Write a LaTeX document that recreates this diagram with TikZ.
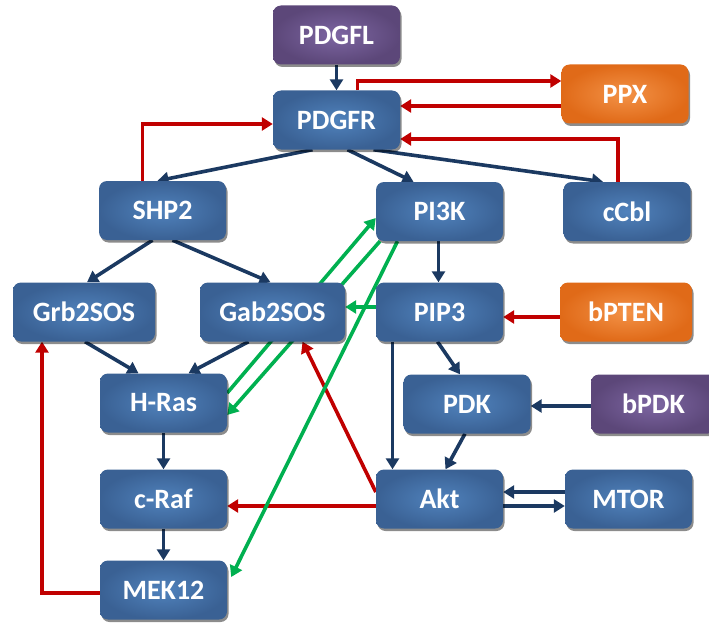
\documentclass[tikz,border=0pt]{standalone}
\usepackage{fontspec}
\setmainfont{Carlito}
\usetikzlibrary{arrows.meta,shadows,calc}
\pgfdeclarelayer{bg}
\pgfsetlayers{bg,main}
\definecolor{lnblue}{HTML}{1B3961}
\definecolor{lnred}{HTML}{C00000}
\definecolor{lngreen}{HTML}{00B050}
\definecolor{bluein}{HTML}{5082BC}
\definecolor{blueout}{HTML}{3A6194}
\definecolor{purpin}{HTML}{7D66A2}
\definecolor{purpout}{HTML}{5C4779}
\definecolor{orgin}{HTML}{F39247}
\definecolor{orgout}{HTML}{E06A18}
\tikzset{
  box/.style={rounded corners=8pt, minimum width=127pt, minimum height=59pt, inner sep=0pt,
    text=white, font=\bfseries\fontsize{28}{31}\selectfont,
    drop shadow={shadow xshift=1.5pt, shadow yshift=-2.5pt, fill=black, opacity=0.45}},
  bluebox/.style={box, inner color=bluein, outer color=blueout},
  purplebox/.style={box, inner color=purpin, outer color=purpout},
  orangebox/.style={box, inner color=orgin, outer color=orgout},
  conn/.style={line width=3.6pt, -{Triangle[length=11pt,width=13pt]}},
  darkarrow/.style={conn, draw=lnblue},
  redarrow/.style={conn, draw=lnred},
  greenarrow/.style={conn, draw=lngreen},
}
\begin{document}
\begin{tikzpicture}[x=1pt,y=-1pt]
\useasboundingbox (0,0) rectangle (709,623);
% nodes
\node[purplebox] (PDGFL) at (336.5,35) {PDGFL};
\node[bluebox] (PDGFR) at (336.5,120) {PDGFR};
\node[orangebox] (PPX) at (625,94) {PPX};
\node[bluebox] (SHP2) at (162.5,210.5) {SHP2};
\node[bluebox] (PI3K) at (439.5,211.5) {PI3K};
\node[bluebox] (cCbl) at (627,211.5) {cCbl};
\node[bluebox, minimum width=142pt] (Grb2SOS) at (84,312) {Grb2SOS};
\node[bluebox, minimum width=145pt] (Gab2SOS) at (272.5,312) {Gab2SOS};
\node[bluebox] (PIP3) at (439.5,312) {PIP3};
\node[orangebox, minimum width=132pt] (bPTEN) at (626,312) {bPTEN};
\node[bluebox] (HRas) at (163.5,403) {H-Ras};
\node[bluebox] (PDK) at (467,404) {PDK};
\node[purplebox, minimum width=125pt] (bPDK) at (653.5,404) {bPDK};
\node[bluebox] (cRaf) at (163.5,499) {c-Raf};
\node[bluebox] (Akt) at (439.5,499) {Akt};
\node[bluebox] (MTOR) at (628.5,499) {MTOR};
\node[bluebox] (MEK12) at (163.5,590) {MEK12};
% connectors
\begin{pgfonlayer}{bg}
% dark
\draw[darkarrow] (PDGFL.south) -- (PDGFR.north);
\draw[darkarrow] ([xshift=-24pt]PDGFR.south) -- ([xshift=-5pt]SHP2.north);
\draw[darkarrow] ([xshift=11pt]PDGFR.south) -- ([xshift=-26pt]PI3K.north);
\draw[darkarrow] ([xshift=37pt]PDGFR.south) -- ([xshift=-24pt]cCbl.north);
\draw[darkarrow] ([xshift=-10pt]SHP2.south) -- ([xshift=3pt]Grb2SOS.north);
\draw[darkarrow] ([xshift=10pt]SHP2.south) -- ([xshift=-2pt]Gab2SOS.north);
\draw[darkarrow] ([xshift=-1pt]PI3K.south) -- ([xshift=-1pt]PIP3.north);
\draw[darkarrow] ([xshift=1pt]Grb2SOS.south) -- ([xshift=-25pt]HRas.north);
\draw[darkarrow] ([xshift=-24pt]Gab2SOS.south) -- ([xshift=25pt]HRas.north);
\draw[darkarrow] (HRas.south) -- (cRaf.north);
\draw[darkarrow] (cRaf.south) -- (MEK12.north);
\draw[darkarrow] ([xshift=-2pt]PIP3.south) -- ([xshift=-7pt]PDK.north);
\draw[darkarrow] ([xshift=-47pt]PIP3.south) -- ([xshift=-47pt]Akt.north);
\draw[darkarrow] ([xshift=-2pt]PDK.south) -- ([xshift=6pt]Akt.north);
\coordinate (d1) at ([yshift=-2pt]bPDK.west);
\draw[darkarrow] (d1) -- (d1 -| PDK.east);
\coordinate (d2) at ([yshift=7pt]MTOR.west);
\draw[darkarrow] (d2) -- (d2 -| Akt.east);
\coordinate (d3) at ([yshift=-7pt]Akt.east);
\draw[darkarrow] (d3) -- (d3 -| MTOR.west);
% red
\draw[redarrow] ([xshift=21pt]PDGFR.north) |- ([yshift=13pt]PPX.west);
\coordinate (r1) at ([yshift=-12pt]PPX.west);
\draw[redarrow] (r1) -- (r1 -| PDGFR.east);
\draw[redarrow] ([xshift=-9pt]cCbl.north) |- ([yshift=-19pt]PDGFR.east);
\draw[redarrow] ([xshift=-20pt]SHP2.north) |- ([yshift=-4pt]PDGFR.west);
\coordinate (r2) at ([yshift=-5pt]bPTEN.west);
\draw[redarrow] (r2) -- (r2 -| PIP3.east);
\coordinate (r3) at ([yshift=-7pt]Akt.west);
\draw[redarrow] (r3) -- (r3 -| cRaf.east);
\draw[redarrow] ([yshift=7pt]Akt.west) -- ([xshift=30pt]Gab2SOS.south);
\draw[redarrow] ([yshift=-3pt]MEK12.west) -| ([xshift=-42pt]Grb2SOS.south);
% green
\coordinate (g1) at ([yshift=5pt]PIP3.west);
\draw[greenarrow] (g1) -- (g1 -| Gab2SOS.east);
\draw[greenarrow] ([yshift=10pt]HRas.east) -- ([yshift=-6.5pt]PI3K.west);
\draw[greenarrow] ([xshift=-59.5pt]PI3K.south) -- ([yshift=-12pt]HRas.east);
\draw[greenarrow] ([xshift=-42pt]PI3K.south) -- ([xshift=4pt,yshift=13pt]MEK12.east);
\end{pgfonlayer}
\end{tikzpicture}
\end{document}
